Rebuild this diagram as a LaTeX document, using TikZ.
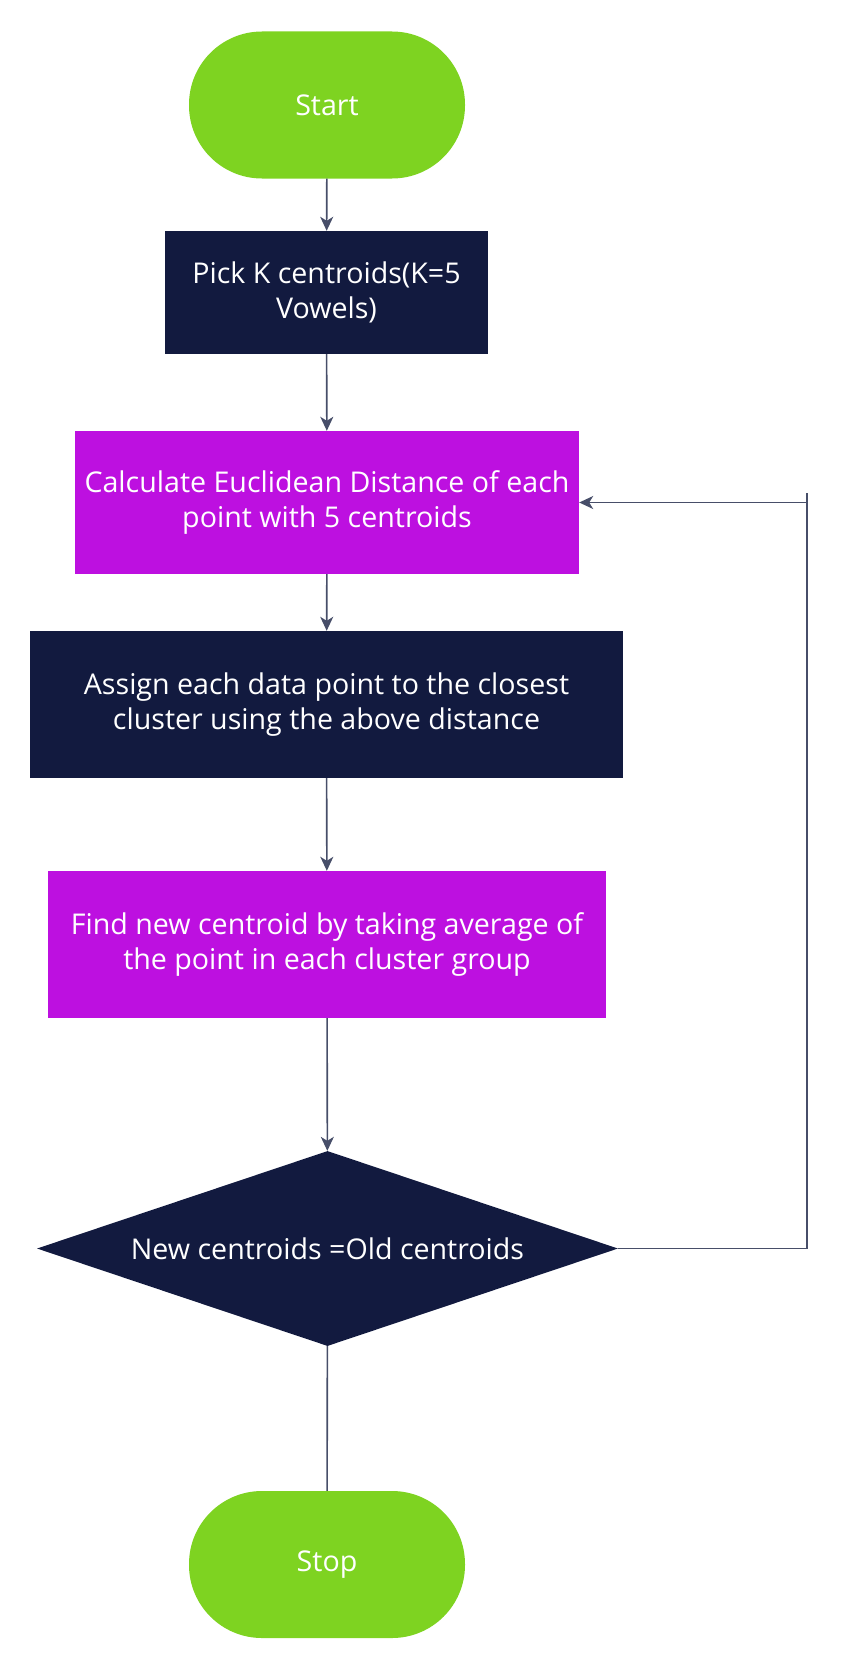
\documentclass[tikz,border=0pt]{standalone}
\usepackage{fontspec}
\setmainfont{Open Sans}
\usetikzlibrary{shapes.geometric,arrows.meta}
\definecolor{termgreen}{HTML}{7ED321}
\definecolor{navybox}{HTML}{121A3F}
\definecolor{violetbox}{HTML}{BD10E0}
\definecolor{linkgrey}{HTML}{474E69}
\tikzset{>={Stealth[length=14pt,width=13pt,inset=4pt]}}
\tikzset{
  terminal/.style={fill=termgreen, text=white, rounded corners=73pt,
    minimum width=276pt, minimum height=147pt, inner sep=0pt},
  navystep/.style={fill=navybox, text=white, align=center, inner sep=0pt},
  violetstep/.style={fill=violetbox, text=white, align=center, inner sep=0pt},
  decision/.style={diamond, aspect=2.98, fill=navybox, text=white, inner sep=0pt,
    minimum width=581pt, minimum height=195pt},
  link/.style={draw=linkgrey, line width=1.6pt}
}

\begin{document}
\begin{tikzpicture}[x=1pt, y=-1pt, font=\fontsize{28.6}{35}\selectfont]
\useasboundingbox (0,0) rectangle (856,1670);
\node[terminal] (start) at (327,105) {Start};
\node[navystep, minimum width=323pt, minimum height=123pt] (pick) at (326.5,292.5)
  {Pick K centroids(K=5\\Vowels)};
\node[violetstep, minimum width=504pt, minimum height=143pt] (calc) at (327,502.5)
  {Calculate Euclidean Distance of each\\point with 5 centroids};
\node[navystep, minimum width=593pt, minimum height=147pt] (assign) at (326.5,704.5)
  {Assign each data point to the closest\\cluster using the above distance};
\node[violetstep, minimum width=558pt, minimum height=147pt] (find) at (327,944.5)
  {Find new centroid by taking average of\\the point in each cluster group};
\node[decision] (check) at (327.5,1248.5) {New centroids =Old centroids};
\node[terminal] (stop) at (327,1564.5) {Stop};
\coordinate (loop) at (807,493);
\draw[link,->] (start) -- (pick);
\draw[link,->] (pick) -- (calc);
\draw[link,->] (calc) -- (assign);
\draw[link,->] (assign) -- (find);
\draw[link,->] (find) -- (check);
\draw[link] (check) -- (stop);
\draw[link] (check.east) -| (loop);
\draw[link,->] (loop |- calc.east) -- (calc.east);
\end{tikzpicture}
\end{document}
